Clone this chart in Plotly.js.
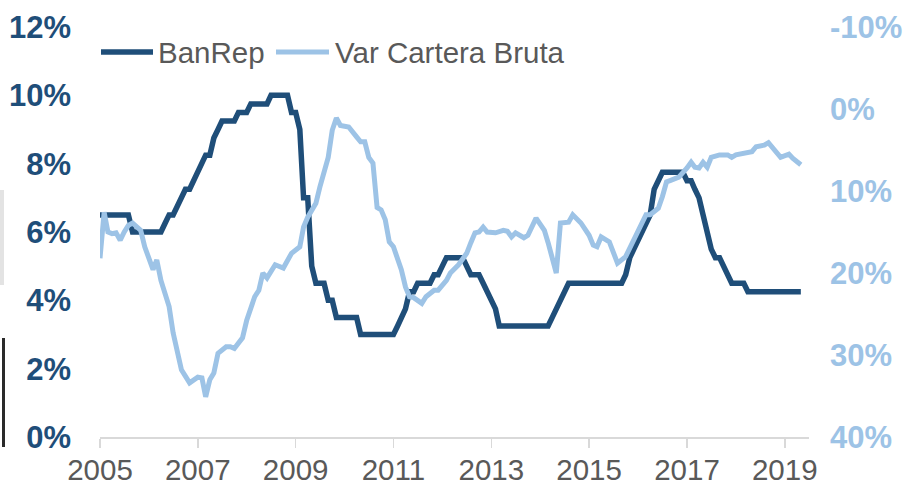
<!DOCTYPE html>
<html><head><meta charset="utf-8">
<script src="https://cdn.plot.ly/plotly-3.0.1.min.js"></script>
<style>html,body{margin:0;padding:0;background:#fff;}#chart{width:908px;height:490px;}</style>
</head><body><div id="chart"></div>
<script>
// ---- data ----
const seriesNames = ["BanRep", "Var Cartera Bruta"];
const banrepStartYear = 2005;
const banrepValues = [
  6.5,6.5,6.5,6.5,6.5,6.5,6.5,6.5,6.0,6.0,6.0,6.0,          // 2005
  6.0,6.0,6.0,6.0,6.25,6.5,6.5,6.75,7.0,7.25,7.25,7.5,       // 2006
  7.75,8.0,8.25,8.25,8.75,9.0,9.25,9.25,9.25,9.25,9.5,9.5,   // 2007
  9.5,9.75,9.75,9.75,9.75,9.75,10,10,10,10,10,9.5,           // 2008
  9.5,9.0,7.0,7.0,5.0,4.5,4.5,4.5,4.0,4.0,3.5,3.5,           // 2009
  3.5,3.5,3.5,3.5,3.0,3.0,3.0,3.0,3.0,3.0,3.0,3.0,           // 2010
  3.0,3.25,3.5,3.75,4.25,4.25,4.5,4.5,4.5,4.5,4.75,4.75,     // 2011
  5.0,5.25,5.25,5.25,5.25,5.25,5.0,4.75,4.75,4.75,4.5,4.25,  // 2012
  4.0,3.75,3.25,3.25,3.25,3.25,3.25,3.25,3.25,3.25,3.25,3.25,// 2013
  3.25,3.25,3.25,3.5,3.75,4.0,4.25,4.5,4.5,4.5,4.5,4.5,      // 2014
  4.5,4.5,4.5,4.5,4.5,4.5,4.5,4.5,4.5,4.75,5.25,5.5,         // 2015
  5.75,6.0,6.25,6.5,7.25,7.5,7.75,7.75,7.75,7.75,7.75,7.75,  // 2016
  7.5,7.5,7.25,7.0,6.5,6.0,5.5,5.25,5.25,5.0,4.75,4.5,       // 2017
  4.5,4.5,4.5,4.25,4.25,4.25,4.25,4.25,4.25,4.25,4.25,4.25,  // 2018
  4.25,4.25,4.25,4.25,4.25                                   // 2019
];
const carteraDates = [
  "2005-01","2005-02","2005-03","2005-04","2005-05","2005-06","2005-07","2005-08","2005-09","2005-11","2005-12",
  "2006-01","2006-02","2006-03","2006-04","2006-06","2006-07","2006-09","2006-10","2006-11",
  "2007-01","2007-02","2007-03","2007-04","2007-05","2007-06","2007-08","2007-09","2007-10","2007-12",
  "2008-01","2008-03","2008-04","2008-05","2008-06","2008-08","2008-10","2008-12",
  "2009-02","2009-03","2009-04","2009-06","2009-07","2009-09","2009-10","2009-11","2009-12",
  "2010-02","2010-04","2010-05","2010-06","2010-07","2010-08","2010-09","2010-10","2010-11","2010-12",
  "2011-01","2011-03","2011-04","2011-05","2011-06","2011-08","2011-09","2011-11","2011-12",
  "2012-02","2012-03","2012-05","2012-07","2012-08","2012-09","2012-10","2012-11","2012-12",
  "2013-02","2013-04","2013-05","2013-06","2013-07","2013-09","2013-10","2013-12",
  "2014-02","2014-03","2014-04","2014-05","2014-06","2014-08","2014-09","2014-11",
  "2015-01","2015-02","2015-03","2015-04","2015-06","2015-07","2015-08","2015-10","2015-12",
  "2016-01","2016-03","2016-04","2016-06","2016-07","2016-08","2016-09","2016-11",
  "2017-01","2017-02","2017-03","2017-04","2017-05","2017-06","2017-07","2017-09",
  "2017-11","2017-12","2018-01","2018-03","2018-05","2018-06","2018-08","2018-09",
  "2018-11","2018-12","2019-02","2019-03","2019-05"
];
const carteraValues = [
  18.2,12.6,15.0,15.2,15.1,16.0,15.0,14.2,13.9,14.8,16.8,
  18.4,19.6,18.4,20.9,24.1,27.3,31.8,32.7,33.4,
  32.7,32.8,35.1,33.0,32.2,29.8,29.0,29.0,29.2,27.9,
  25.8,22.9,22.1,20.0,20.6,19.0,19.4,17.6,
  16.8,14.4,13.2,11.5,9.5,5.9,2.6,1.1,2.0,
  2.2,3.4,4.0,4.0,5.9,6.6,12.0,12.3,13.5,16.2,
  16.8,19.6,21.7,22.9,23.0,23.7,22.9,22.1,22.1,
  20.9,20.0,19.0,17.6,16.3,15.1,15.0,14.4,15.0,
  15.1,14.8,14.9,15.6,15.1,15.7,15.4,13.3,
  14.8,16.3,18.2,20.0,13.9,13.8,12.9,13.9,
  15.4,16.6,16.8,15.6,16.2,17.6,18.8,18.0,16.0,
  14.8,12.9,12.9,12.1,10.7,8.9,8.7,8.3,
  7.2,6.5,7.1,7.2,6.5,7.1,5.9,5.6,
  5.6,5.9,5.6,5.4,5.2,4.6,4.4,4.1,
  5.4,5.9,5.5,6.0,6.8
];
const xTickVals = ["2005-01-01","2007-01-01","2009-01-01","2011-01-01","2013-01-01","2015-01-01","2017-01-01","2019-01-01"];
const xTickText = ["2005","2007","2009","2011","2013","2015","2017","2019"];
const leftTickVals = [0,2,4,6,8,10,12];
const leftTickText = ["0%","2%","4%","6%","8%","10%","12%"];
const rightTickVals = [-10,0,10,20,30,40];
const rightTickText = ["-10%","0%","10%","20%","30%","40%"];

// ---- build ----
const banrepDates = banrepValues.map((v, i) => {
  const y = banrepStartYear + Math.floor(i / 12);
  const m = (i % 12) + 1;
  return y + "-" + (m < 10 ? "0" + m : m) + "-01";
});

const DARK = "#1F4E79", LIGHT = "#9DC3E6", GRAY = "#595959";
const FONT = "Liberation Sans, Arial, sans-serif";

const traces = [
  {x: banrepDates, y: banrepValues, name: seriesNames[0], type: "scatter", mode: "lines",
   line: {color: DARK, width: 5.5}, yaxis: "y", showlegend: false},
  {x: carteraDates, y: carteraValues, name: seriesNames[1], type: "scatter", mode: "lines",
   line: {color: LIGHT, width: 5}, yaxis: "y2", showlegend: false}
];

// plot area in px: x 100..809, y 27..437
const px2x = p => (p - 100) / 709;
const px2y = p => (437 - p) / 410;

const layout = {
  width: 908, height: 490,
  margin: {l: 100, r: 99, t: 27, b: 53, pad: 0},
  paper_bgcolor: "#fff", plot_bgcolor: "#fff",
  font: {family: FONT, color: GRAY},
  showlegend: false,
  xaxis: {
    type: "date", range: ["2005-01-01", "2019-07-01"],
    tickmode: "array", tickvals: xTickVals, ticktext: xTickText,
    ticks: "outside", ticklen: 9, tickwidth: 1.5, tickcolor: "#d9d9d9",
    showline: true, linecolor: "#d9d9d9", linewidth: 1.5,
    showgrid: false, zeroline: false,
    ticklabelstandoff: -3,
    tickfont: {family: FONT, size: 29.5, color: GRAY}
  },
  yaxis: {
    range: [0, 12], tickmode: "array", tickvals: leftTickVals, ticktext: leftTickText,
    showgrid: false, zeroline: false, showline: false, ticks: "",
    ticklabelstandoff: 28,
    tickfont: {family: FONT, size: 31, color: DARK, weight: "bold"}
  },
  yaxis2: {
    overlaying: "y", side: "right",
    range: [40, -10], tickmode: "array", tickvals: rightTickVals, ticktext: rightTickText,
    showgrid: false, zeroline: false, showline: false, ticks: "",
    ticklabelstandoff: 20,
    tickfont: {family: FONT, size: 31, color: LIGHT, weight: "bold"}
  },
  shapes: [
    // legend samples
    {type: "line", xref: "paper", yref: "paper", x0: px2x(101), x1: px2x(153), y0: px2y(52), y1: px2y(52),
     line: {color: DARK, width: 5.5}},
    {type: "line", xref: "paper", yref: "paper", x0: px2x(276), x1: px2x(329), y0: px2y(52), y1: px2y(52),
     line: {color: LIGHT, width: 5}},
    // scan artifacts at the left edge
    {type: "rect", xref: "paper", yref: "paper", x0: px2x(0), x1: px2x(4), y0: px2y(285), y1: px2y(190),
     fillcolor: "#dcdcdc", opacity: 0.8, line: {width: 0}},
    {type: "rect", xref: "paper", yref: "paper", x0: px2x(2), x1: px2x(5), y0: px2y(447), y1: px2y(338),
     fillcolor: "#2a2a2a", line: {width: 0}}
  ],
  annotations: [
    {xref: "paper", yref: "paper", x: px2x(156), y: px2y(52), xanchor: "left", yanchor: "middle",
     text: seriesNames[0], showarrow: false, font: {family: FONT, size: 29.5, color: GRAY}},
    {xref: "paper", yref: "paper", x: px2x(333), y: px2y(52), xanchor: "left", yanchor: "middle",
     text: seriesNames[1], showarrow: false, font: {family: FONT, size: 29.5, color: GRAY}}
  ]
};

Plotly.newPlot("chart", traces, layout, {displayModeBar: false, staticPlot: true});
</script>
</body></html>
